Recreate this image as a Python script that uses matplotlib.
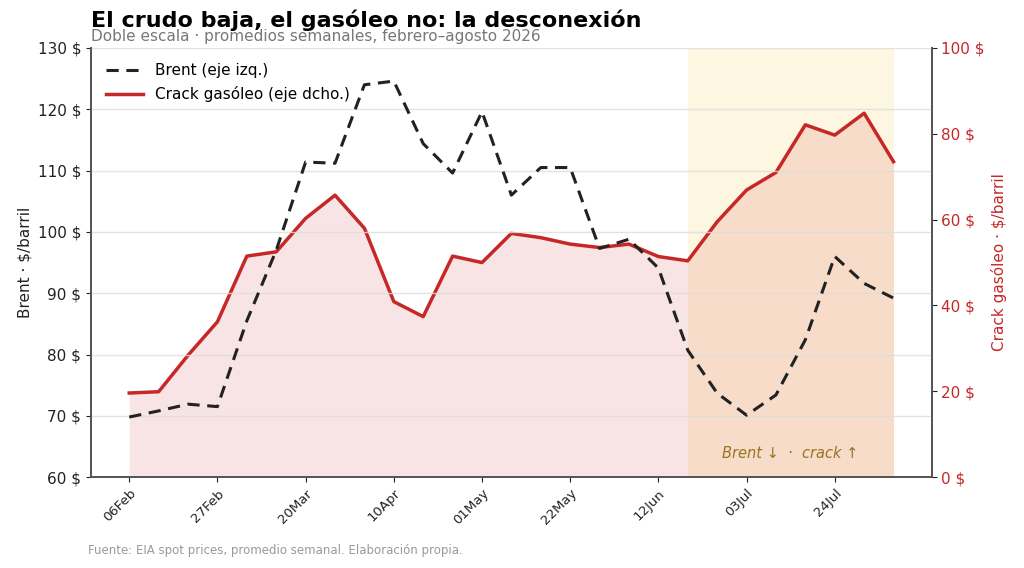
import matplotlib
matplotlib.use("Agg")
import matplotlib.pyplot as plt
import matplotlib.dates as mdates
import pandas as pd

# promedios semanales (viernes), feb-ago 2026
semanas = pd.date_range("2026-02-06", periods=27, freq="7D")
brent = [69.8, 70.8, 71.9, 71.5, 85.5, 97.0, 111.4, 111.2, 124.0, 124.6,
         114.4, 109.6, 119.6, 106.0, 110.5, 110.5, 97.3, 98.8, 94.1, 80.7,
         73.7, 70.1, 73.4, 82.4, 96.0, 91.6, 89.2]
crack = [19.6, 19.9, 28.4, 36.2, 51.5, 52.5, 60.3, 65.7, 58.0, 40.9,
         37.4, 51.5, 50.0, 56.8, 55.8, 54.3, 53.5, 54.3, 51.4, 50.4,
         59.5, 66.9, 71.0, 82.1, 79.7, 84.8, 73.5]
inicio_desc, fin_desc = 19, 26

rojo = "#c62828"
gris = "#555555"

fig = plt.figure(figsize=(10.24, 5.68), dpi=100)
ax = fig.add_axes([0.0889, 0.160, 0.821, 0.7555])
ax2 = ax.twinx()

# capa de fondo: tramo de desconexion + area del crack
ax2.axvspan(semanas[inicio_desc], semanas[fin_desc], color="#fdf0c8", alpha=0.55, zorder=0, lw=0)
ax2.fill_between(semanas, 0, crack, color=rojo, alpha=0.12, lw=0, zorder=1)
l2, = ax2.plot(semanas, crack, color=rojo, lw=2.5, zorder=2, label="Crack gasóleo (eje dcho.)")
ax2.set_ylim(0, 100)

ax.set_zorder(ax2.get_zorder() + 1)
ax.patch.set_visible(False)
l1, = ax.plot(semanas, brent, color="#222222", lw=2.2, ls=(0, (4, 2.5)), label="Brent (eje izq.)")
ax.set_ylim(60, 130)
ax.grid(axis="y", color="#dddddd", lw=1, alpha=0.8)

ax.set_xticks(semanas[::3])
ax.xaxis.set_major_formatter(mdates.DateFormatter("%d%b"))
plt.setp(ax.get_xticklabels(), rotation=45, ha="right", fontsize=9.5, rotation_mode="anchor")

ax.yaxis.set_major_formatter(lambda v, p: f"{v:.0f} $")
ax2.yaxis.set_major_formatter(lambda v, p: f"{v:.0f} $")
ax.tick_params(axis="y", labelsize=11, colors="#222222")
ax2.tick_params(axis="y", labelsize=11, colors=rojo)
ax2.tick_params(axis="y", color="#222222")
ax.tick_params(axis="x", colors="#222222")

ax.set_ylabel("Brent · $/barril", fontsize=11, color="#222222")
ax2.set_ylabel("Crack gasóleo · $/barril", fontsize=11, color=rojo)

for a in (ax, ax2):
    a.spines["top"].set_visible(False)
    for s in ("left", "right", "bottom"):
        a.spines[s].set_color(gris)
        a.spines[s].set_linewidth(1.3)

centro = semanas[inicio_desc] + (semanas[fin_desc] - semanas[inicio_desc]) / 2
ax2.text(centro, 5.5, "Brent ↓  ·  crack ↑", ha="center", va="center",
         style="italic", fontsize=10.5, color="#9a7420")

ax.legend(handles=[l1, l2], loc="upper left", frameon=False, fontsize=11,
          handlelength=2.4, borderaxespad=0.6)

fig.text(0.089, 0.952, "El crudo baja, el gasóleo no: la desconexión",
         fontsize=16, fontweight="bold", va="baseline")
fig.text(0.089, 0.927, "Doble escala · promedios semanales, febrero–agosto 2026",
         fontsize=11, color="#777777", va="baseline")
fig.text(0.086, 0.025, "Fuente: EIA spot prices, promedio semanal. Elaboración propia.",
         fontsize=8.5, color="#999999")

fig.savefig("out.png", dpi=100)
